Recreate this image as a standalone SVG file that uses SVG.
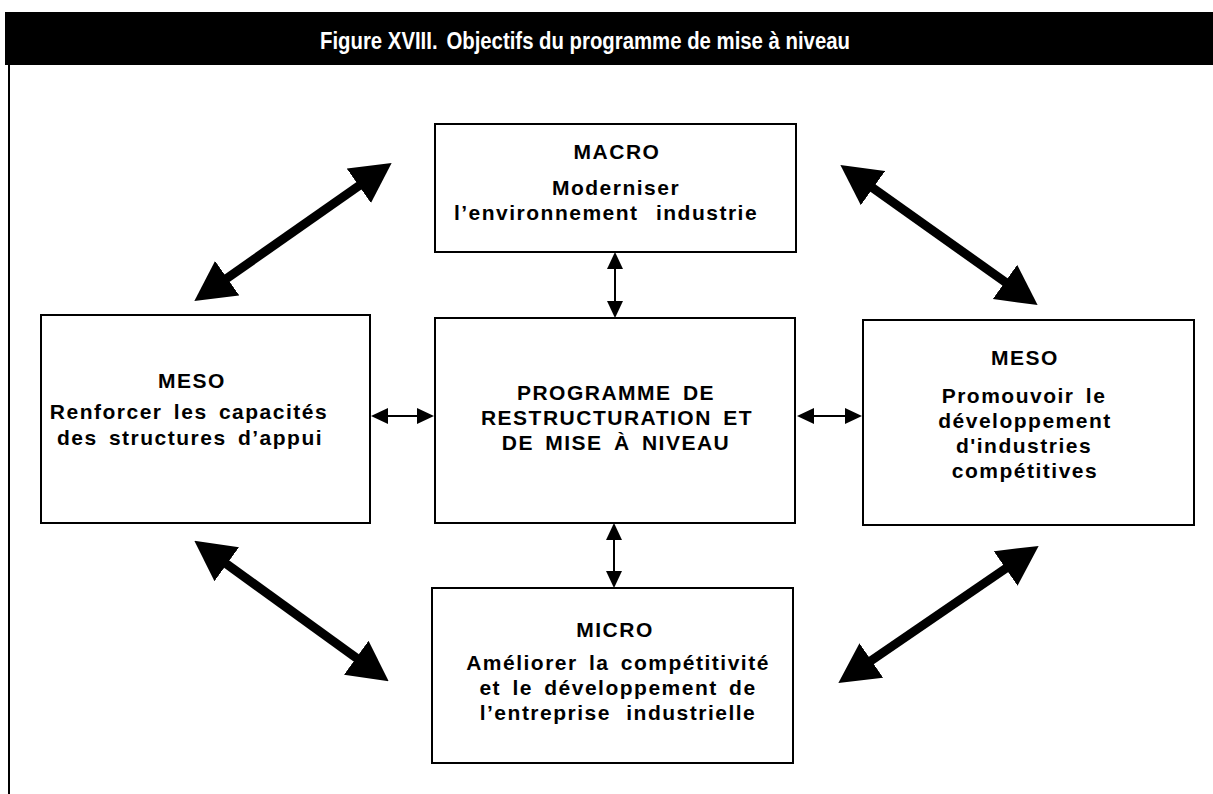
<svg xmlns="http://www.w3.org/2000/svg" width="1213" height="794" viewBox="0 0 1213 794">
  <style>
    .box { fill: #ffffff; stroke: #000000; stroke-width: 2; }
    .t { font-family: "Liberation Sans", Arial, sans-serif; font-weight: bold; font-size: 21px; fill: #000000; text-anchor: middle; letter-spacing: 1.5px; word-spacing: 4px; }
    .title { font-family: "Liberation Sans", Arial, sans-serif; font-weight: bold; font-size: 23px; fill: #ffffff; }
    .big { stroke: #000000; stroke-width: 9; fill: none; marker-start: url(#bigHead); marker-end: url(#bigHead); }
    .small { stroke: #000000; stroke-width: 2; fill: none; marker-start: url(#smallHead); marker-end: url(#smallHead); }
  </style>
  <defs>
    <marker id="bigHead" markerUnits="userSpaceOnUse" viewBox="0 0 40 42" markerWidth="40" markerHeight="42" refX="6" refY="21" orient="auto-start-reverse">
      <path d="M0,0 L40,21 L0,42 z" fill="#000000"/>
    </marker>
    <marker id="smallHead" markerUnits="userSpaceOnUse" viewBox="0 0 17 16" markerWidth="17" markerHeight="16" refX="3" refY="8" orient="auto-start-reverse">
      <path d="M0,0 L17,8 L0,16 z" fill="#000000"/>
    </marker>
  </defs>

  <rect x="0" y="0" width="1213" height="794" fill="#ffffff"/>

  <g id="header">
    <rect x="5" y="12" width="1208" height="53" fill="#000000"/>
    <text class="title" x="320" y="49" textLength="530" lengthAdjust="spacingAndGlyphs">Figure XVIII.<tspan dx="10">Objectifs du programme de mise à niveau</tspan></text>
    <line x1="9" y1="65" x2="9" y2="794" stroke="#000000" stroke-width="2"/>
  </g>

  <g id="connectors">
    <line class="big" x1="222.2" y1="281.6" x2="363.8" y2="182.4"/>
    <line class="big" x1="868.1" y1="184.6" x2="1009.9" y2="285.4"/>
    <line class="big" x1="221.9" y1="560.7" x2="361.1" y2="661.3"/>
    <line class="big" x1="1010.6" y1="565.1" x2="866.4" y2="663.9"/>
    <line class="small" x1="615" y1="266" x2="615" y2="304"/>
    <line class="small" x1="614" y1="537" x2="614" y2="574"/>
    <line class="small" x1="385" y1="416" x2="420" y2="416"/>
    <line class="small" x1="811" y1="416" x2="848" y2="416"/>
  </g>

  <g id="macro">
    <rect class="box" x="435" y="124" width="361" height="128"/>
    <text class="t" x="617" y="159">MACRO</text>
    <text class="t" x="616" y="195">Moderniser</text>
    <text class="t" x="606" y="220">l’environnement<tspan dx="6"> industrie</tspan></text>
  </g>

  <g id="meso-left">
    <rect class="box" x="41" y="315" width="329" height="208"/>
    <text class="t" x="192" y="388">MESO</text>
    <text class="t" x="189" y="419">Renforcer les capacités</text>
    <text class="t" x="190" y="445">des structures d’appui</text>
  </g>

  <g id="programme">
    <rect class="box" x="435" y="318" width="360" height="205"/>
    <text class="t" x="616" y="400">PROGRAMME DE</text>
    <text class="t" x="617" y="425">RESTRUCTURATION ET</text>
    <text class="t" x="616" y="450">DE MISE À NIVEAU</text>
  </g>

  <g id="meso-right">
    <rect class="box" x="863" y="320" width="331" height="205"/>
    <text class="t" x="1025" y="365">MESO</text>
    <text class="t" x="1024" y="403">Promouvoir le</text>
    <text class="t" x="1025" y="428">développement</text>
    <text class="t" x="1024" y="453">d'industries</text>
    <text class="t" x="1025" y="478">compétitives</text>
  </g>

  <g id="micro">
    <rect class="box" x="432" y="588" width="361" height="175"/>
    <text class="t" x="615" y="637">MICRO</text>
    <text class="t" x="618" y="670">Améliorer la compétitivité</text>
    <text class="t" x="618" y="695">et le développement de</text>
    <text class="t" x="618" y="720">l’entreprise<tspan dx="4"> industrielle</tspan></text>
  </g>
</svg>
